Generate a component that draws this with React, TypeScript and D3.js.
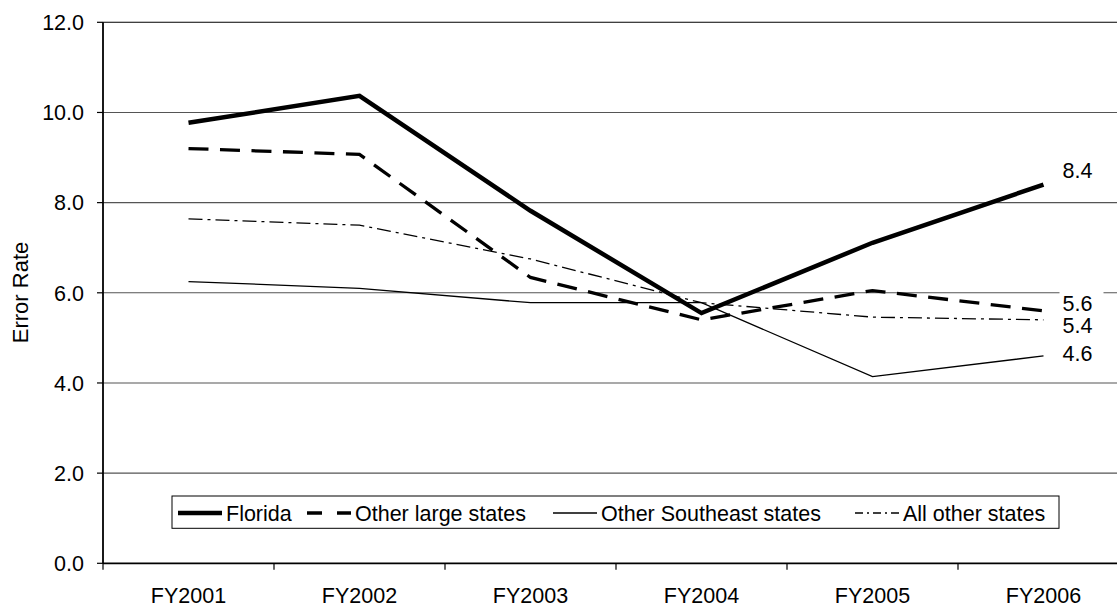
import React from "react";
import * as d3 from "d3";

// Fiscal years on the category axis
const years = ["FY2001", "FY2002", "FY2003", "FY2004", "FY2005", "FY2006"];

// Error rates per group
const florida = [9.77, 10.37, 7.82, 5.55, 7.11, 8.4];
const otherLarge = [9.2, 9.07, 6.34, 5.4, 6.05, 5.6];
const otherSoutheast = [6.25, 6.1, 5.78, 5.78, 4.14, 4.6];
const allOther = [7.64, 7.5, 6.75, 5.78, 5.46, 5.4];

const yTicks = [0, 2, 4, 6, 8, 10, 12];

type Series = {
  name: string;
  values: number[];
  width: number;
  dash: string | null;
  legendDash: string | null;
  labelShift: number; // vertical nudge of the end label, px
};

const series: Series[] = [
  { name: "Florida", values: florida, width: 4.5, dash: null, legendDash: null, labelShift: -14 },
  { name: "Other large states", values: otherLarge, width: 3.3, dash: "20,11.5", legendDash: "15,15", labelShift: -8 },
  { name: "Other Southeast states", values: otherSoutheast, width: 1.3, dash: null, legendDash: null, labelShift: -3 },
  { name: "All other states", values: allOther, width: 1.3, dash: "14,5,3,5", legendDash: "8,4,2,4", labelShift: 5 },
];

const W = 1117;
const H = 607;
const left = 103;
const right = 1129;
const top = 22.3;
const bottom = 563.3;
const FONT = "'Liberation Sans', Arial, sans-serif";
const FS = 21.5;

export default function App() {
  const band = d3.scaleBand<string>().domain(years).range([left, right]);
  const x = d3.scalePoint<string>().domain(years).range([left, right]).padding(0.5);
  const y = d3.scaleLinear().domain([0, 12]).range([bottom, top]);

  const line = (vals: number[]) =>
    d3
      .line<number>()
      .x((_, i) => x(years[i]) as number)
      .y((v) => y(v))(vals) as string;

  const legendX = [178, 307, 553, 855];
  const legendY = 513;
  const last = years[years.length - 1];

  return (
    <svg
      width={W}
      height={H}
      style={{ position: "absolute", left: 0, top: 0, background: "#fff" }}
      fontFamily={FONT}
    >
      <rect x={0} y={0} width={W} height={H} fill="#fff" />
      {/* horizontal gridlines */}
      {yTicks
        .filter((t) => t > 0)
        .map((t) => (
          <line
            key={"g" + t}
            x1={left}
            x2={right}
            y1={y(t)}
            y2={y(t)}
            stroke={t === 12 ? "#000" : "#555"}
            strokeWidth={1.1}
          />
        ))}
      {/* y axis */}
      <line x1={left} x2={left} y1={top} y2={bottom} stroke="#000" strokeWidth={1.8} />
      {yTicks.map((t) => (
        <g key={"y" + t}>
          <line x1={left - 6} x2={left} y1={y(t)} y2={y(t)} stroke="#000" strokeWidth={1.2} />
          <text x={84} y={y(t)} dy="0.36em" textAnchor="end" fontSize={FS} fill="#000">
            {t.toFixed(1)}
          </text>
        </g>
      ))}
      {/* x axis */}
      <line x1={left} x2={right} y1={bottom} y2={bottom} stroke="#000" strokeWidth={1.8} />
      {years.map((yr) => (
        <line
          key={"t" + yr}
          x1={band(yr) as number}
          x2={band(yr) as number}
          y1={bottom}
          y2={bottom + 6.5}
          stroke="#000"
          strokeWidth={1.2}
        />
      ))}
      {years.map((yr) => (
        <text key={"l" + yr} x={x(yr) as number} y={603} textAnchor="middle" fontSize={FS} fill="#000">
          {yr}
        </text>
      ))}
      <text transform={`translate(28,292.5) rotate(-90)`} textAnchor="middle" fontSize={22} fill="#000">
        Error Rate
      </text>

      {/* series lines */}
      {series.map((s) => (
        <path
          key={s.name}
          d={line(s.values)}
          fill="none"
          stroke="#000"
          strokeWidth={s.width}
          strokeDasharray={s.dash ?? undefined}
          strokeLinejoin="miter"
        />
      ))}

      {/* end-of-line value labels */}
      {series.map((s) => {
        const v = s.values[s.values.length - 1];
        const lx = (x(last) as number) + 19;
        const ly = y(v) + s.labelShift;
        return (
          <g key={"v" + s.name}>
            <rect x={lx - 3} y={ly - 12} width={44} height={24} fill="#fff" />
            <text x={lx} y={ly} dy="0.36em" fontSize={FS} fill="#000">
              {v.toFixed(1)}
            </text>
          </g>
        );
      })}

      {/* legend */}
      <rect x={172} y={496} width={887} height={32.3} fill="#fff" stroke="#000" strokeWidth={1} />
      {series.map((s, i) => (
        <g key={"lg" + s.name}>
          <line
            x1={legendX[i]}
            x2={legendX[i] + 44}
            y1={legendY}
            y2={legendY}
            stroke="#000"
            strokeWidth={s.width}
            strokeDasharray={s.legendDash ?? undefined}
          />
          <text x={legendX[i] + 48} y={legendY} dy="0.36em" fontSize={FS} fill="#000">
            {s.name}
          </text>
        </g>
      ))}
    </svg>
  );
}
